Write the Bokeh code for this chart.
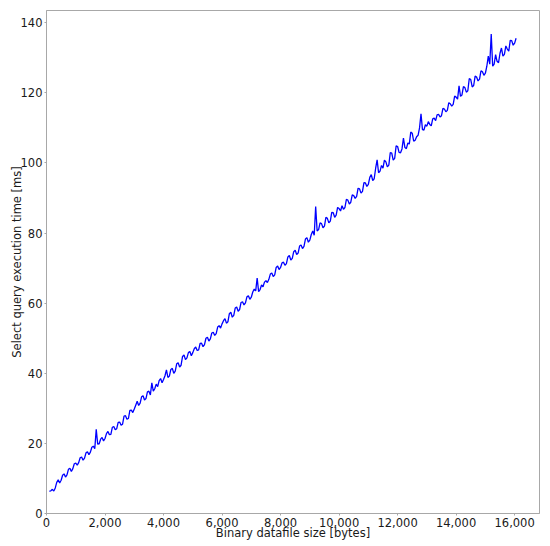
from bokeh.plotting import figure
from bokeh.models import Range1d, FixedTicker, NumeralTickFormatter
from bokeh.embed import file_html
from bokeh.resources import INLINE

# Binary datafile size [bytes]
sizes = list(range(100, 16051, 50))

# Select query execution time [ms]
times = [
    6.3, 6.5, 6.9, 6.4, 7.3, 8.9, 9.6, 8.7, 9.5, 10.9, 11.3, 10.4, 11.0, 12.6, 12.9, 12.0, 12.8, 14.2, 14.4, 13.8,
    14.5, 15.9, 16.1, 15.2, 15.8, 17.3, 17.6, 16.8, 17.5, 18.9, 19.2, 18.5, 24.0, 19.8, 19.9, 21.2, 21.7, 20.7, 21.4, 22.8,
    23.4, 22.5, 22.6, 24.6, 24.8, 23.9, 24.2, 26.0, 26.1, 25.2, 25.5, 27.8, 27.9, 26.9, 27.1, 29.4, 29.5, 28.8, 29.8, 30.9,
    32.0, 30.8, 31.5, 33.3, 33.6, 32.4, 32.8, 34.7, 34.9, 33.8, 37.3, 34.9, 35.6, 36.9, 36.2, 37.9, 38.5, 37.3, 38.2, 39.3,
    41.0, 38.8, 39.2, 41.1, 41.4, 40.0, 40.6, 42.7, 43.0, 41.8, 42.3, 44.8, 45.2, 43.9, 44.4, 45.9, 46.2, 45.0, 45.9, 47.0,
    47.5, 46.5, 46.7, 48.5, 48.6, 47.6, 48.2, 50.0, 50.3, 49.2, 49.8, 51.5, 51.7, 50.8, 51.3, 53.2, 53.6, 52.9, 54.1, 55.0,
    55.6, 54.3, 54.7, 57.0, 57.4, 56.0, 56.5, 58.6, 58.9, 57.7, 58.2, 60.2, 60.4, 59.5, 60.1, 61.8, 62.1, 61.1, 61.7, 63.2,
    64.0, 63.5, 67.2, 63.3, 63.9, 65.2, 64.7, 66.0, 66.4, 65.9, 66.8, 68.3, 68.6, 67.6, 68.1, 70.2, 70.6, 69.6, 70.2, 71.5,
    71.7, 70.8, 71.3, 73.2, 73.6, 72.3, 72.8, 74.7, 75.1, 73.9, 74.3, 76.3, 76.6, 75.6, 76.2, 78.3, 78.7, 77.4, 78.0, 79.6,
    80.6, 79.4, 87.6, 80.6, 81.0, 82.9, 82.7, 81.5, 82.0, 84.5, 84.2, 82.9, 83.4, 85.9, 85.8, 84.5, 85.1, 87.3, 87.0, 86.3,
    87.8, 86.8, 87.3, 89.6, 89.4, 88.3, 88.8, 90.9, 90.7, 89.9, 90.5, 92.8, 92.6, 91.4, 91.9, 94.4, 94.3, 93.3, 93.9, 95.9,
    96.7, 95.0, 95.5, 98.5, 100.9, 97.2, 97.7, 99.3, 98.5, 100.8, 100.3, 98.9, 99.4, 103.0, 102.8, 100.8, 101.3, 104.9, 104.7, 103.0,
    102.9, 104.0, 107.1, 104.4, 104.1, 105.7, 105.4, 108.8, 108.5, 106.2, 106.5, 107.5, 107.9, 110.0, 114.0, 109.5, 109.4, 110.9, 110.5, 111.8,
    111.0, 110.6, 112.6, 112.8, 112.1, 113.7, 113.9, 113.1, 113.5, 115.6, 115.4, 114.6, 115.0, 117.2, 116.9, 116.2, 116.7, 119.1, 118.8, 118.2,
    122.0, 119.0, 119.4, 121.8, 121.5, 120.2, 120.6, 124.1, 123.8, 121.7, 122.1, 124.8, 124.5, 123.4, 123.9, 126.3, 126.0, 125.0, 125.6, 127.6,
    130.5, 128.2, 136.8, 127.6, 128.2, 130.9, 129.0, 128.6, 131.3, 132.8, 130.5, 131.0, 133.4, 132.5, 131.9, 135.0, 134.9, 133.6, 134.2, 135.6,
]

x_ticks = [0, 2000, 4000, 6000, 8000, 10000, 12000, 14000, 16000]
y_ticks = [0, 20, 40, 60, 80, 100, 120, 140]

FONT = "DejaVu Sans"
FS = "11.5px"
TXT = "#1a1a1a"
GRAY = "#a8a8a8"

p = figure(
    frame_width=493, frame_height=503,
    x_range=Range1d(0, 16850), y_range=Range1d(0, 143.5),
    output_backend="svg", toolbar_location=None,
    min_border_top=10, min_border_left=46, min_border_right=5, min_border_bottom=0,
)
p.background_fill_color = "white"
p.border_fill_color = "white"
p.outline_line_color = GRAY
p.outline_line_width = 1
p.grid.visible = False

p.line(sizes, times, line_color="#0000ff", line_width=1.3)

p.xaxis.ticker = FixedTicker(ticks=x_ticks)
p.yaxis.ticker = FixedTicker(ticks=y_ticks)
p.xaxis.formatter = NumeralTickFormatter(format="0,0")
p.xaxis.axis_label = "Binary datafile size [bytes]"
p.yaxis.axis_label = "Select query execution time [ms]"

for ax in (p.xaxis, p.yaxis):
    ax.axis_line_color = GRAY
    ax.major_tick_line_color = GRAY
    ax.major_tick_in = 0
    ax.major_tick_out = 2
    ax.minor_tick_line_color = None
    ax.major_label_text_font = FONT
    ax.major_label_text_font_size = FS
    ax.major_label_text_color = TXT
    ax.major_label_standoff = 2
    ax.axis_label_text_font = FONT
    ax.axis_label_text_font_size = FS
    ax.axis_label_text_font_style = "normal"
    ax.axis_label_text_color = TXT

p.xaxis.axis_label_standoff = -4
p.yaxis.axis_label_standoff = -6

open("out.html", "w").write(file_html(p, INLINE))
